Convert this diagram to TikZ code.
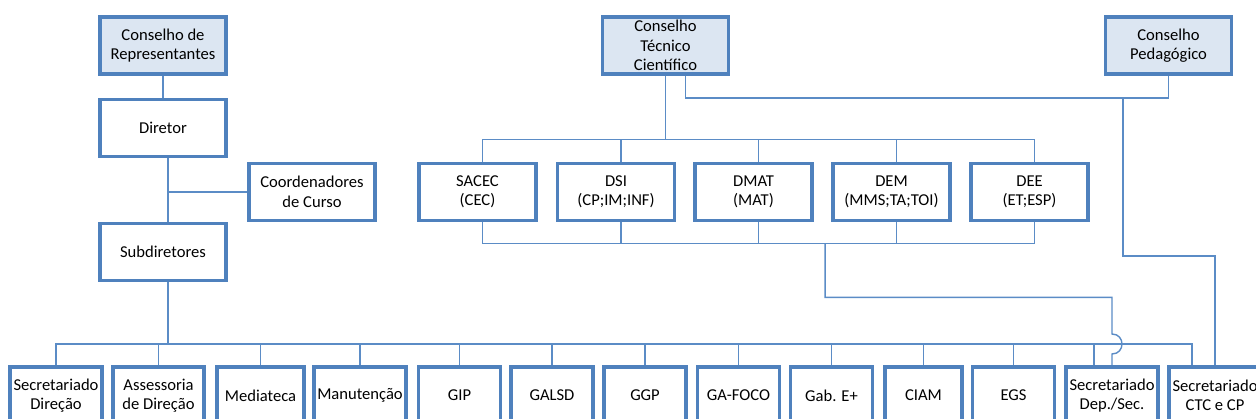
\documentclass[tikz,border=0pt]{standalone}
\usepackage{fontspec}
\setmainfont{Carlito}
\definecolor{boxblue}{HTML}{4F81BD}
\definecolor{linkblue}{HTML}{5B8CC6}
\definecolor{councilfill}{HTML}{DCE6F2}

\begin{document}
\begin{tikzpicture}[x=0.025cm,y=-0.025cm]
   \tikzstyle{every node}=[font=\fontsize{11.8}{13.8}\selectfont, align=center, inner sep=0pt]
   \tikzstyle{box}=[draw=boxblue, line width=2.6pt, fill=white, minimum height=1.43cm]
   \tikzstyle{chief}=[box, minimum width=3.15cm]
   \tikzstyle{council}=[chief, fill=councilfill]
   \tikzstyle{dept}=[box, minimum width=2.93cm]
   \tikzstyle{unit}=[box, minimum width=2.05cm]
   \tikzstyle{link}=[draw=linkblue, line width=1pt]

\useasboundingbox (0,0) rectangle (1256,419);

\node[council] (cr) at (163,45.5) {Conselho de\\Representantes};
\node[chief] (dir) at (163,128) {Diretor};
\node[chief] (coord) at (312,192) {Coordenadores\\de Curso};
\node[chief] (sub) at (163,252) {Subdiretores};
\node[council] (ctc) at (665.5,45.5) {Conselho\\Técnico\\Científico};
\node[council] (cp) at (1168.5,45.5) {Conselho\\Pedagógico};

\node[dept] (sacec) at (477.5,192) {SACEC\\(CEC)};
\node[dept] (dsi) at (616,192) {DSI\\(CP;IM;INF)};
\node[dept] (dmat) at (753.5,192) {DMAT\\(MAT)};
\node[dept] (dem) at (891.5,192) {DEM\\(MMS;TA;TOI)};
\node[dept] (dee) at (1029.5,192) {DEE\\(ET;ESP)};

\node[unit, minimum width=2.3cm] (secdir) at (56,395.5) {Secretariado\\Direção};
\node[unit, minimum width=2.28cm] (assess) at (158.5,395.5) {Assessoria\\de Direção};
\node[unit, minimum width=2.18cm] (media) at (260.5,395.5) {Mediateca};
\node[unit, minimum width=2.3cm] (manut) at (360,395.5) {Manutenção};
\node[unit] (gip) at (459.5,395.5) {GIP};
\node[unit] (galsd) at (552,395.5) {GALSD};
\node[unit] (ggp) at (645,395.5) {GGP};
\node[unit] (gafoco) at (738.5,395.5) {GA-FOCO};
\node[unit] (gab) at (831.5,395.5) {Gab. E+};
\node[unit, minimum width=1.93cm] (ciam) at (923.5,395.5) {CIAM};
\node[unit] (egs) at (1013.5,395.5) {EGS};
\node[unit, minimum width=2.3cm] (secdep) at (1112,395.5) {Secretariado\\Dep./Sec.};
\node[unit, minimum width=2.3cm] (secctc) at (1215,395.5) {Secretariado\\CTC e CP};

\draw[link] (cr) -- (dir);
\draw[link] ([xshift=0.125cm]dir.south) coordinate (d) -- ([xshift=0.125cm]sub.north);
\draw[link] (coord.west) -- (coord.west -| d);
\draw[link] ([xshift=0.125cm]sub.south) -- ++(0,62);

\draw[link] (ctc) -- ++(0,95);
\draw[link] ([xshift=0.125cm]sacec.north) -- ++(0,-22) -| ([xshift=0.125cm]dee.north);
\foreach \n in {dsi,dmat,dem}
    \draw[link] ([xshift=0.125cm]\n.north) -- ++(0,-22);
\draw[link] ([xshift=0.125cm]sacec.south) -- ++(0,21) -| ([xshift=0.125cm]dee.south);
\foreach \n in {dsi,dmat,dem}
    \draw[link] ([xshift=0.125cm]\n.south) -- ++(0,21);

\draw[link] ([xshift=0.5cm]ctc.south) -- ++(0,22) -| (cp.south);
\coordinate (pj) at (1123,98);
\draw[link] (pj) -- ++(0,158) -| (secctc.north);

\draw[link] (secdir.north) -- ++(0,-21) -| ([xshift=-0.575cm]secctc.north);
\foreach \n in {assess,media,manut,gip,galsd,ggp,gafoco,gab,ciam,egs}
    \draw[link] (\n.north) -- ++(0,-21);
\draw[link] ([xshift=-0.45cm]secdep.north) -- ++(0,-21);

\draw[link] ([xshift=1.79cm]dmat.south) ++(0,21) -- ++(0,54) -| (1112,334)
    .. controls (1125.3,334) and (1125.3,354) .. (1112,354) -- (secdep.north);

\end{tikzpicture}
\end{document}
